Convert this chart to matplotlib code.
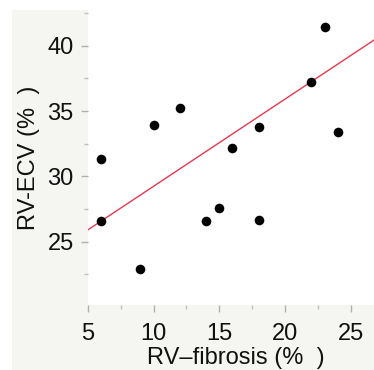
import matplotlib
matplotlib.use("Agg")
import matplotlib.pyplot as plt
from matplotlib.patches import Rectangle
from matplotlib.ticker import MultipleLocator
import numpy as np

# Data
fibrosis = [6, 6, 9, 10, 12, 14, 15, 16, 18, 18, 22, 23, 24]
ecv = [31.3, 26.6, 22.9, 33.9, 35.2, 26.6, 27.6, 32.2, 33.8, 26.7, 37.2, 41.4, 33.4]
fit_intercept = 22.56
fit_slope = 0.668
x_ticks = [5, 10, 15, 20, 25]
y_ticks = [25, 30, 35, 40]

plt.rcParams['font.family'] = ['Liberation Sans', 'DejaVu Sans']

fig = plt.figure(figsize=(3.74, 3.70), dpi=100)
fig.patch.set_facecolor('white')
fig.patches.append(Rectangle((12/374, 0), 1, 1 - 10/370, transform=fig.transFigure,
                             facecolor='#f5f5f1', edgecolor='none', zorder=-10))

ax = fig.add_axes([87.7/374, (370-305)/370, (374-87.7)/374, (305-10)/370])
ax.set_facecolor('white')
ax.set_xlim(5, 26.75)
ax.set_ylim(20.16, 42.73)

xl = np.array(ax.get_xlim())
ax.plot(xl, fit_intercept + fit_slope * xl, color='#e8384f', lw=1.0, zorder=2)
ax.scatter(fibrosis, ecv, s=48, color='black', zorder=3, linewidths=0)

for s in ax.spines.values():
    s.set_visible(False)

ax.set_xticks(x_ticks)
ax.set_yticks(y_ticks)
ax.xaxis.set_minor_locator(MultipleLocator(2.5))
ax.yaxis.set_minor_locator(MultipleLocator(2.5))
ax.tick_params(which='major', length=5, width=1, color='#b0b0b0', labelsize=17,
               labelcolor='#111111')
ax.tick_params(axis='y', which='major', pad=5)
ax.tick_params(axis='x', which='major', pad=8)
ax.tick_params(which='minor', length=3, width=1, color='#c0c0c0')

ax.set_xlabel('RV\u2013fibrosis (%  )', fontsize=17, color='#111111')
ax.set_ylabel('RV-ECV (%  )', fontsize=17, color='#111111')
ax.xaxis.set_label_coords(0.516, -0.1424)
ax.yaxis.set_label_coords(-0.165, 0.5)

fig.savefig('out.png', dpi=100, facecolor=fig.get_facecolor())
